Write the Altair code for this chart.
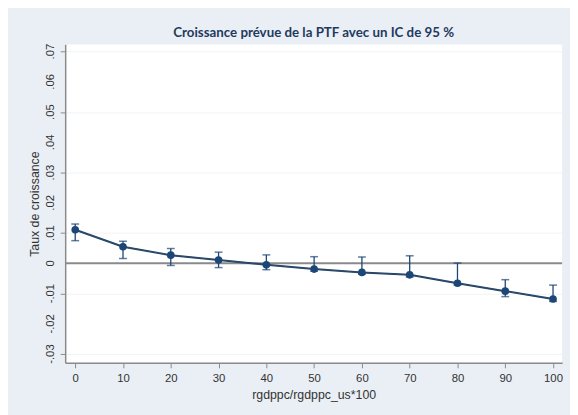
import altair as alt
import pandas as pd

x_vals = [0, 10, 20, 30, 40, 50, 60, 70, 80, 90, 100]
pred = [0.0111, 0.0055, 0.0027, 0.0011, -0.0005, -0.0019, -0.0030, -0.0038, -0.0066, -0.0092, -0.0118]
upper = [0.0130, 0.0073, 0.0049, 0.0037, 0.0028, 0.0022, 0.0021, 0.0025, 0.0001, -0.0054, -0.0072]
lower = [0.0075, 0.0016, -0.0007, -0.0014, -0.0021, -0.0026, -0.0036, -0.0045, -0.0072, -0.0110, -0.0126]
y_ticks = [-0.03, -0.02, -0.01, 0, 0.01, 0.02, 0.03, 0.04, 0.05, 0.06, 0.07]
y_tick_labels = ["-.03", "-.02", "-.01", "0", ".01", ".02", ".03", ".04", ".05", ".06", ".07"]
x_ticks = [0, 10, 20, 30, 40, 50, 60, 70, 80, 90, 100]

df = pd.DataFrame({"x": x_vals, "pred": pred, "upper": upper, "lower": lower})
ylab = pd.DataFrame({"v": y_ticks, "t": y_tick_labels})

navy = "#1b4675"
xscale = alt.Scale(domain=[-2.1, 101.9], nice=False, zero=False)
yscale = alt.Scale(domain=[-0.0329, 0.0724], nice=False, zero=False)

xaxis = alt.Axis(values=x_ticks, title="rgdppc/rgdppc_us*100", grid=False,
                 labelFontSize=11.5, titleFontSize=12.5, labelPadding=5,
                 titlePadding=5, tickSize=5, labelFlush=False, labelOverlap=False)
yaxis = alt.Axis(values=y_ticks, title="Taux de croissance", grid=True, gridColor="#f1f3f5",
                 labels=False, titleFontSize=12.5, titlePadding=19, tickSize=5)

base = alt.Chart(df)

rules = base.mark_rule(color=navy, strokeWidth=1.3).encode(
    x=alt.X("x:Q", scale=xscale, axis=xaxis),
    y=alt.Y("lower:Q", scale=yscale, axis=yaxis), y2="upper:Q")
zero = alt.Chart(pd.DataFrame({"z": [0]})).mark_rule(color="#8a8a8a", strokeWidth=2).encode(
    y=alt.Y("z:Q", scale=yscale))
cap_hi = base.mark_tick(color=navy, thickness=1.5, size=8, orient="horizontal").encode(
    x=alt.X("x:Q", scale=xscale), y=alt.Y("upper:Q", scale=yscale))
cap_lo = base.mark_tick(color=navy, thickness=1.5, size=8, orient="horizontal").encode(
    x=alt.X("x:Q", scale=xscale), y=alt.Y("lower:Q", scale=yscale))
line = base.mark_line(color=navy, strokeWidth=2).encode(
    x=alt.X("x:Q", scale=xscale), y=alt.Y("pred:Q", scale=yscale))
dash = base.mark_line(color="#4a4a4a", strokeWidth=1, strokeDash=[4, 3]).encode(
    x=alt.X("x:Q", scale=xscale), y=alt.Y("pred:Q", scale=yscale))
pts = base.mark_circle(color=navy, size=60, opacity=1).encode(
    x=alt.X("x:Q", scale=xscale), y=alt.Y("pred:Q", scale=yscale))
ylabels = alt.Chart(ylab).mark_text(angle=270, align="center", baseline="middle",
                                    font="Liberation Sans", fontSize=11.5, color="#333333").encode(
    x=alt.value(-14), y=alt.Y("v:Q", scale=yscale), text="t:N")

chart = alt.layer(zero, rules, cap_hi, cap_lo, line, dash, pts, ylabels).properties(
    width=504, height=323,
    title=alt.TitleParams("Croissance prévue de la PTF avec un IC de 95 %",
                          font="Lato", fontSize=13.5, fontWeight="bold", color="#1f3a60",
                          anchor="middle", offset=4),
    autosize=alt.AutoSizeParams(type="none"),
    padding={"left": 58, "top": 34, "right": 8, "bottom": 50},
    background="#e9eff5",
).configure_view(fill="white", stroke=None).configure_axis(
    labelFont="Liberation Sans", titleFont="Liberation Sans",
    labelColor="#333333", titleColor="#333333", titleFontWeight="normal",
    domainColor="#8a8a8a", tickColor="#8a8a8a", domainWidth=1.5,
)

chart.save("out.html", embed_options={"renderer": "svg", "actions": False})
